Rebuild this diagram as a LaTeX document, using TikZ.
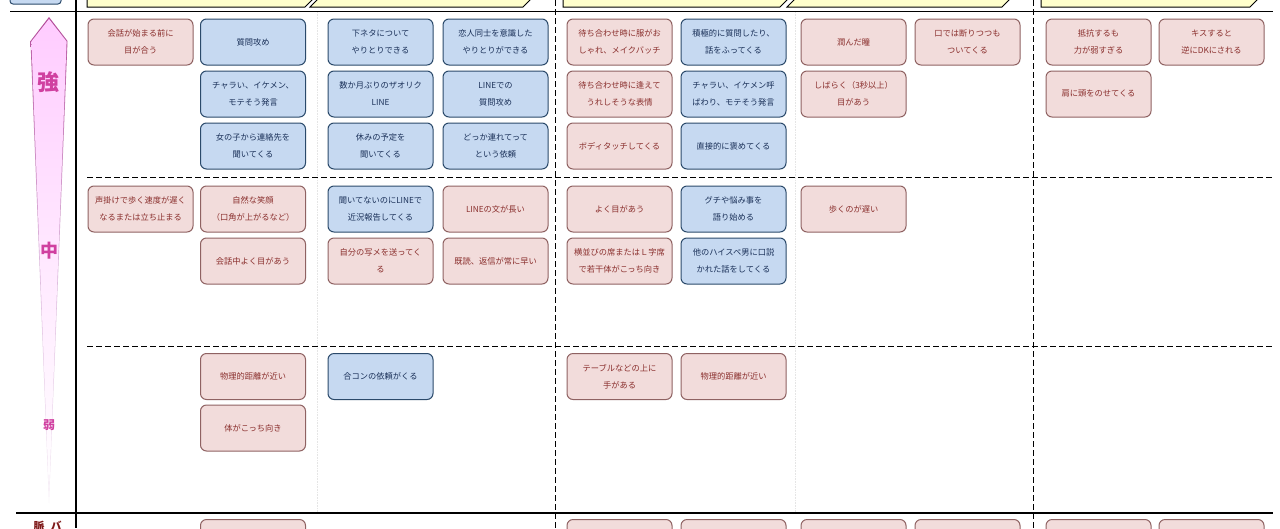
\documentclass[tikz,border=0pt]{standalone}
\usepackage{fontspec}
\newfontfamily\cjk{Noto Sans CJK JP}

\definecolor{redfill}{HTML}{F2DCDB}
\definecolor{redline}{HTML}{8F6262}
\definecolor{redtext}{HTML}{8A2F2D}
\definecolor{bluefill}{HTML}{C6D9F1}
\definecolor{blueline}{HTML}{2B4A6B}
\definecolor{bluetext}{HTML}{1A3058}
\definecolor{headfill}{HTML}{FFFFCC}
\definecolor{powertext}{HTML}{D040A0}
\definecolor{pulsetext}{HTML}{7F1A1A}

\tikzset{
	redbox/.style={draw=redline, fill=redfill, text=redtext, line width=1pt, rounded corners=6pt,
		minimum width=105pt, minimum height=46pt, inner sep=0pt, align=center,
		font=\cjk\fontsize{8.25}{17}\selectfont},
	bluebox/.style={redbox, draw=blueline, fill=bluefill, text=bluetext},
	headbar/.style={draw=black, fill=headfill, line width=1pt},
	mainline/.style={black, line width=1.1pt},
	bandline/.style={black, line width=0.9pt, dash pattern=on 6pt off 3pt},
	faintline/.style={black!10, line width=0.6pt, densely dotted},
	powerlabel/.style={text=powertext, inner sep=0pt},
	pulselabel/.style={text=pulsetext, inner sep=0pt, font=\cjk\bfseries\fontsize{11}{11}\selectfont}
}

\begin{document}
\begin{tikzpicture}[x=1pt,y=-1pt]
	\useasboundingbox (0,0) rectangle (1280,528);
	\clip (0,0) rectangle (1280,528);
	\fill[white] (0,0) rectangle (1280,528);

	%header
	\draw[bluebox, rounded corners=3pt] (10,-10) rectangle (61,4);
	\draw[headbar] (87,-5) -- (87,7) -- (305,7) -- (317,-5);
	\draw[headbar] (322,-5) -- (310,7) -- (523,7) -- (535,-5);
	\draw[headbar] (563,-5) -- (563,7) -- (780,7) -- (792,-5);
	\draw[headbar] (799,-5) -- (787,7) -- (1002,7) -- (1014,-5);
	\draw[headbar] (1041,-5) -- (1041,7) -- (1250,7) -- (1262,-5);

	%grid
	\draw[faintline] (317,12) -- (317,513);
	\draw[faintline] (795,12) -- (795,513);
	\draw[bandline] (87,177) -- (1273,177);
	\draw[bandline] (87,346) -- (1273,346);
	\draw[bandline] (555.5,0) -- (555.5,528);
	\draw[bandline] (1033,0) -- (1033,528);
	\draw[mainline] (10,11.5) -- (1273,11.5);
	\draw[mainline] (16,513) -- (1273,513);
	\draw[mainline] (76,0) -- (76,528);

	%strength arrow
	\shade[top color=violet!60!pink, bottom color=violet!8!white, middle color=violet!30!white]
		(49,17) -- (67.5,41) -- (49,503) -- (30.5,41) -- cycle;
	\shade[top color=magenta!20!white, bottom color=white, middle color=magenta!9!white]
		(49,19) -- (66.6,41.5) -- (49,494) -- (31.4,41.5) -- cycle;
	\node (strong) [powerlabel, font=\cjk\bfseries\fontsize{22}{22}\selectfont] at (48,82) {強};
	\node (middle) [powerlabel, font=\cjk\bfseries\fontsize{18}{18}\selectfont] at (49,251) {中};
	\node (weak) [powerlabel, font=\cjk\bfseries\fontsize{12}{12}\selectfont] at (49,425) {弱};
	\node (pulseA) [pulselabel] at (39,526) {脈};
	\node (pulseB) [pulselabel] at (56,526) {バ};

	%first band
	\node (aA) [redbox] at (140.5,42) {会話が始まる前に\\目が合う};
	\node (aB) [bluebox] at (253,42) {質問攻め};
	\node (bB) [bluebox] at (253,94) {チャラい、イケメン、\\モテそう発言};
	\node (cB) [bluebox] at (253,146) {女の子から連絡先を\\聞いてくる};
	\node (aC) [bluebox] at (380.5,42) {下ネタについて\\やりとりできる};
	\node (bC) [bluebox] at (380.5,94) {数か月ぶりのザオリク\\LINE};
	\node (cC) [bluebox] at (380.5,146) {休みの予定を\\聞いてくる};
	\node (aD) [bluebox] at (495.5,42) {恋人同士を意識した\\やりとりができる};
	\node (bD) [bluebox] at (495.5,94) {LINEでの\\質問攻め};
	\node (cD) [bluebox] at (495.5,146) {どっか連れてって\\という依頼};
	\node (aE) [redbox] at (619.5,42) {待ち合わせ時に服がお\\しゃれ、メイクバッチ};
	\node (bE) [redbox] at (619.5,94) {待ち合わせ時に逢えて\\うれしそうな表情};
	\node (cE) [redbox] at (619.5,146) {ボディタッチしてくる};
	\node (aF) [bluebox] at (733.5,42) {積極的に質問したり、\\話をふってくる};
	\node (bF) [bluebox] at (733.5,94) {チャラい、イケメン呼\\ばわり、モテそう発言};
	\node (cF) [bluebox] at (733.5,146) {直接的に褒めてくる};
	\node (aG) [redbox] at (853.5,42) {潤んだ瞳};
	\node (bG) [redbox] at (853.5,94) {しばらく（3秒以上）\\目があう};
	\node (aH) [redbox] at (967.5,42) {口では断りつつも\\ついてくる};
	\node (aI) [redbox] at (1098.5,42) {抵抗するも\\力が弱すぎる};
	\node (bI) [redbox] at (1098.5,94) {肩に頭をのせてくる};
	\node (aJ) [redbox] at (1211.5,42) {キスすると\\逆にDKにされる};

	%second band
	\node (dA) [redbox] at (140.5,209) {声掛けで歩く速度が遅く\\なるまたは立ち止まる};
	\node (dB) [redbox] at (253,209) {自然な笑顔\\（口角が上がるなど）};
	\node (eB) [redbox] at (253,261) {会話中よく目があう};
	\node (dC) [bluebox] at (380.5,209) {聞いてないのにLINEで\\近況報告してくる};
	\node (eC) [redbox] at (380.5,261) {自分の写メを送ってく\\る};
	\node (dD) [redbox] at (495.5,209) {LINEの文が長い};
	\node (eD) [redbox] at (495.5,261) {既読、返信が常に早い};
	\node (dE) [redbox] at (619.5,209) {よく目があう};
	\node (eE) [redbox] at (619.5,261) {横並びの席またはＬ字席\\で若干体がこっち向き};
	\node (dF) [bluebox] at (733.5,209) {グチや悩み事を\\語り始める};
	\node (eF) [bluebox] at (733.5,261) {他のハイスペ男に口説\\かれた話をしてくる};
	\node (dG) [redbox] at (853.5,209) {歩くのが遅い};

	%third band
	\node (fB) [redbox] at (253,376.5) {物理的距離が近い};
	\node (gB) [redbox] at (253,428) {体がこっち向き};
	\node (fC) [bluebox] at (380.5,376.5) {合コンの依頼がくる};
	\node (fE) [redbox] at (619.5,376.5) {テーブルなどの上に\\手がある};
	\node (fF) [redbox] at (733.5,376.5) {物理的距離が近い};

	%bottom band, cut by the page edge
	\node (hB) [redbox, anchor=north] at (253,519) {};
	\node (hE) [redbox, anchor=north] at (619.5,519) {};
	\node (hF) [redbox, anchor=north] at (733.5,519) {};
	\node (hG) [redbox, anchor=north] at (853.5,519) {};
	\node (hH) [redbox, anchor=north] at (967.5,519) {};
	\node (hI) [redbox, anchor=north] at (1098.5,519) {};
	\node (hJ) [redbox, anchor=north] at (1211.5,519) {};
\end{tikzpicture}
\end{document}
